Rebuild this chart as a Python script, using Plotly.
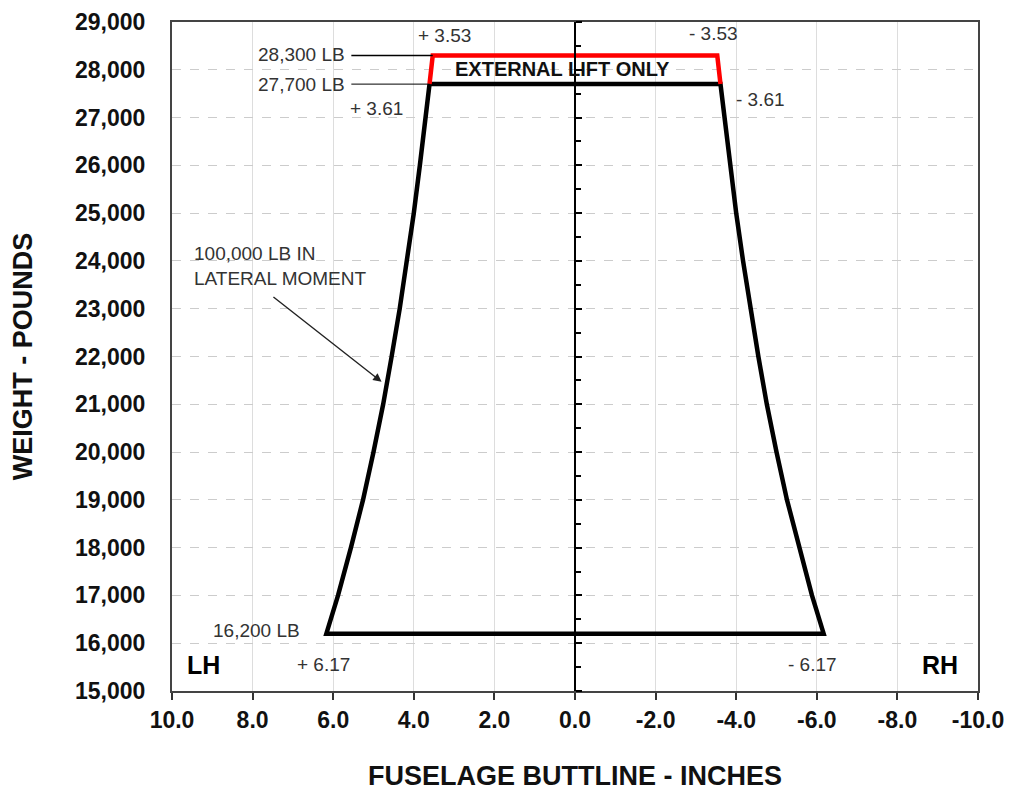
import plotly.graph_objects as go

# Envelope data (buttline inches, weight lb)
weights = [16200, 17000, 18000, 19000, 20000, 21000, 22000, 23000, 24000, 25000, 26000, 27000, 27700]
buttline_lh = [6.17, 5.88, 5.56, 5.26, 5.00, 4.76, 4.55, 4.35, 4.17, 4.00, 3.85, 3.70, 3.61]
buttline_rh = [-6.17, -5.88, -5.56, -5.26, -5.00, -4.76, -4.55, -4.35, -4.17, -4.00, -3.85, -3.70, -3.61]

ext_weights = [27700, 28300, 28300, 27700]
ext_buttline = [3.61, 3.53, -3.53, -3.61]

x_ticks = [10, 8, 6, 4, 2, 0, -2, -4, -6, -8, -10]
y_ticks = list(range(15000, 29001, 1000))

FONT = "Liberation Sans, Arial, sans-serif"

# Closed black envelope
env_x = list(reversed(buttline_lh)) + buttline_rh + [buttline_lh[-1]]
env_y = list(reversed(weights)) + weights + [weights[-1]]

fig = go.Figure()
fig.add_trace(go.Scatter(x=env_x, y=env_y, mode="lines",
                         line=dict(color="black", width=4.5), hoverinfo="skip",
                         showlegend=False))
fig.add_trace(go.Scatter(x=ext_buttline, y=ext_weights, mode="lines",
                         line=dict(color="#ff0000", width=4.5), hoverinfo="skip",
                         showlegend=False))
# invisible trace on yaxis2 for zero-line ticks
fig.add_trace(go.Scatter(x=[0], y=[15000], yaxis="y2", mode="markers",
                         marker=dict(opacity=0), hoverinfo="skip", showlegend=False))

# leader lines for weight labels
for w, xend in [(28300, ext_buttline[1]), (27700, ext_buttline[0])]:
    fig.add_shape(type="line", x0=5.55, x1=xend, y0=w, y1=w,
                  line=dict(color="black", width=1.5 if w == 28300 else 1))

txt = dict(size=19, color="#333333", family=FONT)
def note(x, y, text, xanchor="center", font=txt):
    fig.add_annotation(x=x, y=y, text=text, showarrow=False, xanchor=xanchor,
                       yanchor="middle", font=font)

note(5.67, 28320, "28,300 LB", xanchor="right")
note(5.67, 27690, "27,700 LB", xanchor="right")
note(3.24, 28710, "+ 3.53")
note(4.93, 27200, "+ 3.61")
note(-3.44, 28750, "- 3.53")
note(-4.60, 27370, "- 3.61")
note(7.90, 16257, "16,200 LB")
note(6.24, 15545, "+ 6.17")
note(-5.89, 15545, "- 6.17")
note(0.30, 28017, "<b>EXTERNAL LIFT ONLY</b>",
     font=dict(size=20, color="#111111", family=FONT))
note(9.23, 15545, "<b>LH</b>", font=dict(size=25, color="black", family=FONT))
note(-9.06, 15545, "<b>RH</b>", font=dict(size=25, color="black", family=FONT))
fig.add_annotation(x=9.5, y=23900, text="100,000 LB IN<br>LATERAL MOMENT",
                   showarrow=False, xanchor="left", yanchor="middle", align="left",
                   font=txt)
fig.add_annotation(x=4.80, y=21470, ax=7.52, ay=23270, axref="x", ayref="y",
                   showarrow=True, arrowhead=2, arrowsize=1.2, arrowwidth=1.4,
                   arrowcolor="#222222", text="")

fig.update_layout(
    width=1014, height=793,
    margin=dict(l=164, r=44, t=14, b=110),
    paper_bgcolor="white", plot_bgcolor="white",
    font=dict(family=FONT, color="#111111"),
    xaxis=dict(range=[10, -10], tickvals=x_ticks, automargin=False,
               ticktext=[f"{v:.1f}" for v in x_ticks],
               tickfont=dict(size=23, family=FONT, color="#111111", weight="bold"),
               ticks="outside", ticklen=7, tickwidth=2, tickcolor="#333333",
               showgrid=True, gridcolor="#dddddd", gridwidth=1,
               zeroline=False, showline=True, linecolor="#444444", linewidth=2,
               mirror=True,
               title=dict(text="<b>FUSELAGE BUTTLINE - INCHES</b>",
                          font=dict(size=27, family=FONT, color="#111111"),
                          standoff=35)),
    yaxis=dict(range=[15000, 29000], tickvals=y_ticks, automargin=False,
               ticktext=[f"{v:,}" for v in y_ticks],
               tickfont=dict(size=23, family=FONT, color="#111111", weight="bold"),
               ticks="", ticklabelstandoff=20,
               showgrid=True, gridcolor="#cccccc", griddash="dash", gridwidth=1,
               zeroline=False, showline=True, linecolor="#444444", linewidth=2,
               mirror=True,
               title=dict(text="<b>WEIGHT - POUNDS</b>",
                          font=dict(size=27, family=FONT, color="#111111"),
                          standoff=38)),
    yaxis2=dict(range=[15000, 29000], overlaying="y", anchor="free", position=0.5,
                side="right", showline=True, linecolor="black", linewidth=2,
                automargin=False,
                ticks="outside", tickvals=y_ticks, ticklen=6, tickwidth=2,
                tickcolor="black", showticklabels=False, showgrid=False,
                zeroline=False,
                minor=dict(tickvals=[v + 500 for v in y_ticks[:-1]], ticks="outside",
                           ticklen=5, tickwidth=1.5, tickcolor="black")),
)

fig.write_html("out.html")
